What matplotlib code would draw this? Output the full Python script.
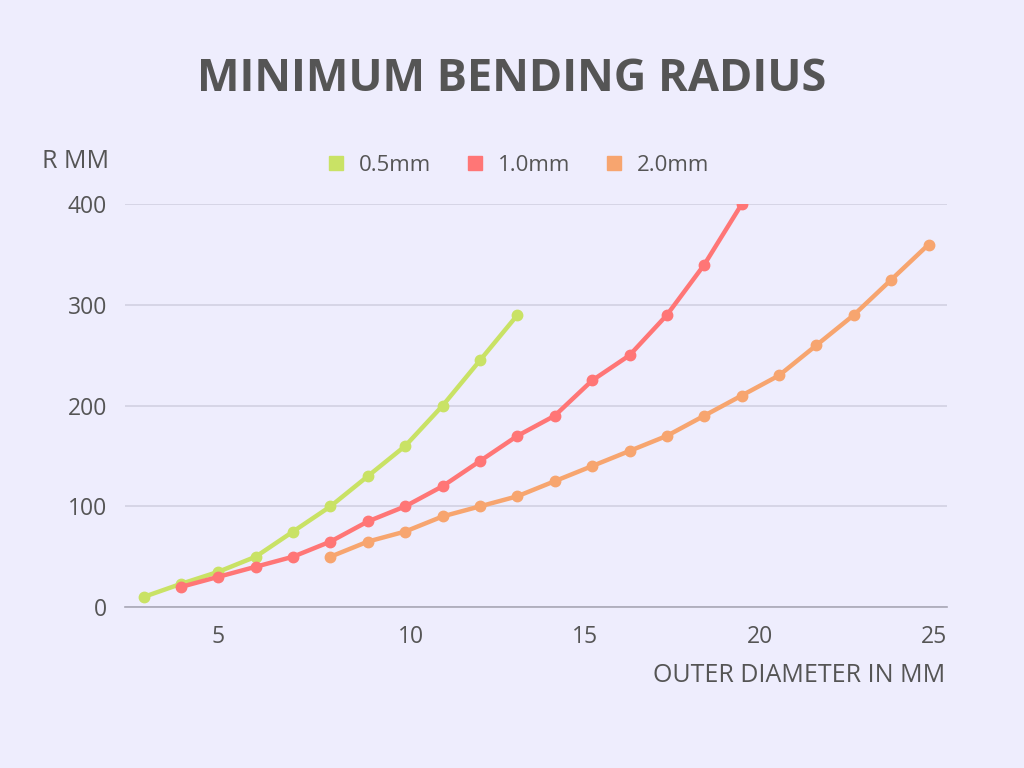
import matplotlib.pyplot as plt

plt.rcParams['font.family'] = ['Open Sans', 'DejaVu Sans']

# outer diameter (mm) and minimum bending radius (mm) per wall thickness
x_05 = [3, 4, 5, 6, 7, 8, 9, 10, 11, 12, 13]
r_05 = [10, 23, 35, 50, 75, 100, 130, 160, 200, 245, 290]

x_10 = [4, 5, 6, 7, 8, 9, 10, 11, 12, 13, 14, 15, 16, 17, 18, 19]
r_10 = [20, 30, 40, 50, 65, 85, 100, 120, 145, 170, 190, 225, 250, 290, 340, 400]

x_20 = [8, 9, 10, 11, 12, 13, 14, 15, 16, 17, 18, 19, 20, 21, 22, 23, 24]
r_20 = [50, 65, 75, 90, 100, 110, 125, 140, 155, 170, 190, 210, 230, 260, 290, 325, 360]

labels = ['0.5mm', '1.0mm', '2.0mm']
colors = ['#C9E265', '#FF7676', '#F7A56F']

x_ticks = [5, 10.15, 14.8, 19.5, 24.5]
x_ticklabels = ['5', '10', '15', '20', '25']
y_ticks = [0, 100, 200, 300, 400]

bg = '#EEEDFD'
txt = '#555555'

fig = plt.figure(figsize=(10.24, 7.68), dpi=100, facecolor=bg)
ax = fig.add_axes([0.122, 0.2096, 0.803, 0.5244], facecolor=bg)

for xs, ys, lab, c in zip([x_05, x_10, x_20], [r_05, r_10, r_20], labels, colors):
    ax.plot(xs, ys, color=c, lw=3.2, marker='o', ms=7.5, label=lab,
            solid_capstyle='round', zorder=3)

ax.set_xlim(2.5, 24.5)
ax.set_ylim(0, 400)
ax.set_yticks(y_ticks)
ax.set_xticks(x_ticks)
ax.set_xticklabels(x_ticklabels)
ax.get_xticklabels()[-1].set_ha('right')

ax.grid(axis='y', color='#D2D1E2', lw=1.2)
ax.set_axisbelow(True)
for s in ['top', 'right', 'left']:
    ax.spines[s].set_visible(False)
ax.spines['bottom'].set_color('#A9A8B6')
ax.spines['bottom'].set_linewidth(1.2)
ax.tick_params(axis='both', length=0, labelsize=16.5, labelcolor=txt)
ax.tick_params(axis='y', pad=13)
ax.tick_params(axis='x', pad=13)

fig.text(0.5, 0.897, 'MINIMUM BENDING RADIUS', ha='center', va='center',
         fontsize=32.5, fontweight='bold', color=txt)
fig.text(0.041, 0.79, 'R MM', ha='left', va='center', fontsize=18, color=txt)
fig.text(0.923, 0.12, 'OUTER DIAMETER IN MM', ha='right', va='center',
         fontsize=18, color=txt)

handles = [plt.Line2D([], [], ls='none', marker='s', ms=10, color=c) for c in colors]
fig.legend(handles, labels, loc='center', bbox_to_anchor=(0.505, 0.785), ncol=3,
           frameon=False, fontsize=16, labelcolor=txt, handletextpad=0.5,
           columnspacing=1.5, handlelength=1.0)

fig.savefig('out.png', dpi=100, facecolor=bg)
